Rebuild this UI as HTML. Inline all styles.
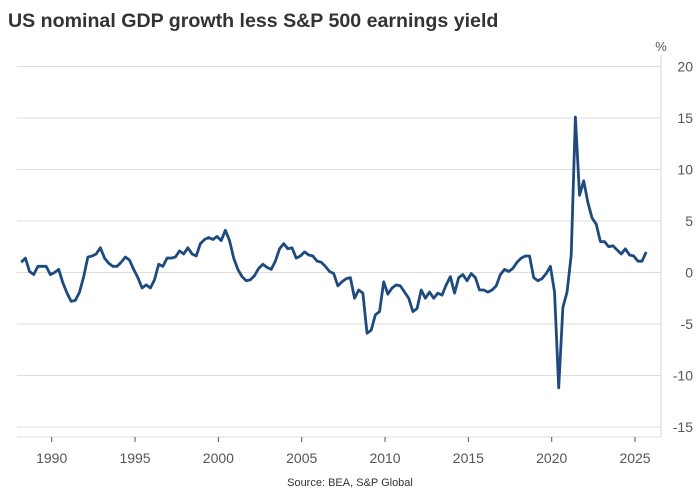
<!DOCTYPE html>
<html><head><meta charset="utf-8"><style>
body{margin:0;background:#fff;font-family:"Liberation Sans",sans-serif}
svg{display:block}
</style></head><body>
<svg id="c" width="700" height="500">
<text x="8" y="27" font-size="19.6" font-weight="bold" fill="#333">US nominal GDP growth less S&amp;P 500 earnings yield</text>
<text x="661" y="51" font-size="13" fill="#555" text-anchor="middle">%</text>
<text x="350" y="486" font-size="11" fill="#333" text-anchor="middle">Source: BEA, S&amp;P Global</text>
</svg>
<script>
const startYear = 1988;
const values = [
1.0,1.4,0.1,-0.2, 0.6,0.6,0.6,-0.2, 0.0,0.3,-1.0,-2.0, -2.8,-2.7,-1.9,-0.4,
1.5,1.6,1.8,2.4, 1.4,0.9,0.6,0.6, 1.0,1.5,1.2,0.3, -0.5,-1.5,-1.2,-1.5,
-0.7,0.8,0.6,1.4, 1.4,1.5,2.1,1.8, 2.4,1.8,1.6,2.8, 3.2,3.4,3.2,3.5,
3.1,4.1,3.1,1.4, 0.3,-0.4,-0.8,-0.7, -0.3,0.4,0.8,0.5, 0.3,1.1,2.3,2.8,
2.3,2.4,1.4,1.6, 2.0,1.7,1.6,1.1, 1.0,0.6,0.1,-0.1, -1.3,-0.9,-0.6,-0.5,
-2.5,-1.7,-2.0,-5.9, -5.6,-4.1,-3.8,-0.9, -2.1,-1.5,-1.2,-1.3, -1.9,-2.5,-3.8,-3.5,
-1.7,-2.5,-1.9,-2.5, -2.0,-2.2,-1.2,-0.4, -2.0,-0.5,-0.2,-0.8, -0.1,-0.5,-1.7,-1.7,
-1.9,-1.7,-1.3,-0.2, 0.3,0.1,0.4,1.0, 1.4,1.6,1.6,-0.5, -0.8,-0.6,-0.1,0.6,
-1.9,-11.2,-3.4,-1.9, 1.7,15.1,7.5,8.9, 6.8,5.3,4.7,3.0, 3.0,2.5,2.6,2.2,
1.8,2.3,1.7,1.6, 1.1,1.1,2.0];
const yTicks = [20,15,10,5,0,-5,-10,-15];
const xTicks = [1990,1995,2000,2005,2010,2015,2020,2025];

const svg = document.getElementById('c');
const NS = 'http://www.w3.org/2000/svg';
const X = t => 51.7 + (t - 1990) * 16.667;
const Y = v => 272.5 - v * 10.3;
const plotL = 17, plotR = 661, plotB = 437, plotT = 55;
function mk(tag, attrs){const e=document.createElementNS(NS,tag);for(const k in attrs)e.setAttribute(k,attrs[k]);svg.appendChild(e);return e;}

yTicks.forEach(v=>{
  const g = mk('line',{x1:plotL,x2:plotR,y1:Y(v),y2:Y(v),stroke:'#dedede','stroke-width':1});
  
  
  const t = mk('text',{x:693,y:Y(v)+5,'font-size':14,fill:'#555','text-anchor':'end'});
  t.textContent = v;
  
  
});
const ax = mk('line',{x1:plotL,x2:plotR,y1:plotB,y2:plotB,stroke:'#dedede','stroke-width':1});


const ay = mk('line',{x1:plotR,x2:plotR,y1:plotT,y2:plotB,stroke:'#d6d6d6','stroke-width':1});


xTicks.forEach(yr=>{
  const l = mk('line',{x1:X(yr),x2:X(yr),y1:plotB,y2:plotB+5,stroke:'#555','stroke-width':1});
  
  
  const t = mk('text',{x:X(yr),y:463,'font-size':14,fill:'#555','text-anchor':'middle'});
  t.textContent = yr;
  
  
});
const pts = values.map((v,i)=>X(startYear + i/4 + 0.17).toFixed(2)+','+Y(v).toFixed(2)).join(' ');
const line = mk('polyline',{points:pts,fill:'none',stroke:'#1f4a7c','stroke-width':2.8,'stroke-linejoin':'round'});


</script>
</body></html>
